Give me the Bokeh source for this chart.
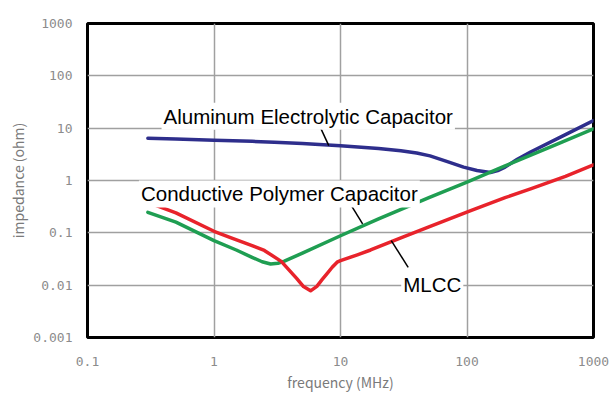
from bokeh.plotting import figure
from bokeh.models import FixedTicker, CustomJSTickFormatter, Label
from bokeh.embed import file_html
from bokeh.resources import INLINE

# ---- data ----
x_ticks = [0.1, 1, 10, 100, 1000]
y_ticks = [0.001, 0.01, 0.1, 1, 10, 100, 1000]

alu_f = [0.3, 0.5, 1, 2, 3, 5, 10, 20, 30, 40, 51, 70, 94, 120, 153, 175, 200, 250, 318, 584, 1000]
alu_z = [6.4, 6.2, 5.9, 5.6, 5.4, 5.1, 4.6, 4.1, 3.7, 3.35, 2.95, 2.3, 1.8, 1.55, 1.42, 1.55, 1.8, 2.55, 3.5, 7.3, 14.0]

poly_f = [0.3, 0.5, 1, 1.5, 2, 2.4, 2.8, 3.2, 3.6, 5, 10, 20, 50, 100, 200, 500, 1000]
poly_z = [0.247, 0.16, 0.071, 0.047, 0.034, 0.028, 0.0254, 0.0262, 0.0288, 0.041, 0.088, 0.185, 0.47, 0.93, 1.9, 4.8, 9.7]

mlcc_f = [0.3, 0.5, 1, 1.35, 2, 2.5, 3.4, 4.5, 5.1, 5.8, 6.5, 7.2, 7.8, 8.6, 9.4, 10, 13.6, 17.3, 30, 50, 107, 200, 318, 600, 1000]
mlcc_z = [0.383, 0.24, 0.107, 0.081, 0.057, 0.046, 0.0285, 0.0135, 0.0094, 0.0078, 0.0095, 0.013, 0.0164, 0.022, 0.0275, 0.0295, 0.038, 0.047, 0.08, 0.13, 0.266, 0.47, 0.69, 1.2, 2.0]

label_text = ["Aluminum Electrolytic Capacitor", "Conductive Polymer Capacitor", "MLCC"]
label_f = [0.385, 0.255, 30.2]
label_z = [16.9, 0.554, 0.0102]

leader_f0 = [6.73, 11.3, 25.2]
leader_z0 = [12.1, 0.445, 0.071]
leader_f1 = [8.08, 14.96, 34.3]
leader_z1 = [4.65, 0.148, 0.0219]

p = figure(width=612, height=395, x_axis_type="log", y_axis_type="log",
           x_range=(0.1, 1000), y_range=(0.001, 1000),
           output_backend="svg", toolbar_location=None,
           min_border_left=87, min_border_right=19, min_border_top=23, min_border_bottom=58,
           x_axis_label="frequency (MHz)", y_axis_label="impedance (ohm)")

p.background_fill_color = "white"
p.border_fill_color = "white"
p.outline_line_color = "black"
p.outline_line_width = 3

for ax, ticks in ((p.xaxis, x_ticks), (p.yaxis, y_ticks)):
    ax.ticker = FixedTicker(ticks=ticks)
    ax.formatter = CustomJSTickFormatter(code="return tick.toString();")
    ax.axis_line_color = None
    ax.major_tick_line_color = None
    ax.minor_tick_line_color = None
    ax.major_tick_out = 0
    ax.major_tick_in = 0
    ax.minor_tick_out = 0
    ax.minor_tick_in = 0
    ax.major_label_text_font = "DejaVu Sans Mono"
    ax.major_label_text_font_size = "13px"
    ax.major_label_text_color = "#8c8c8c"
    ax.axis_label_text_font = "Noto Sans CJK JP"
    ax.axis_label_text_font_size = "14px"
    ax.axis_label_text_font_style = "normal"
    ax.axis_label_text_color = "#7a7a7a"

p.yaxis.major_label_standoff = 15
p.yaxis.axis_label_standoff = 2
p.xaxis.major_label_standoff = 19
p.xaxis.axis_label_standoff = 3

p.xgrid.ticker = FixedTicker(ticks=x_ticks)
p.ygrid.ticker = FixedTicker(ticks=y_ticks)
p.grid.grid_line_color = "#a0a0a0"
p.grid.grid_line_width = 1.5
p.grid.minor_grid_line_color = None

p.line(alu_f, alu_z, line_color="#2e2e8c", line_width=3.5, line_join="round", line_cap="round")
p.line(poly_f, poly_z, line_color="#1f9e52", line_width=3.5, line_join="round", line_cap="round")
p.line(mlcc_f, mlcc_z, line_color="#e8232b", line_width=3.5, line_join="round", line_cap="round")

for t, fx, zy in zip(label_text, label_f, label_z):
    p.add_layout(Label(x=fx, y=zy, text=t, text_font="Liberation Sans", text_font_size="20.5px",
                       text_color="black", text_baseline="alphabetic", text_align="left",
                       background_fill_color="white", padding=2))

p.segment(x0=leader_f0, y0=leader_z0, x1=leader_f1, y1=leader_z1, line_color="black", line_width=1.5)

open("out.html", "w").write(file_html(p, INLINE))
